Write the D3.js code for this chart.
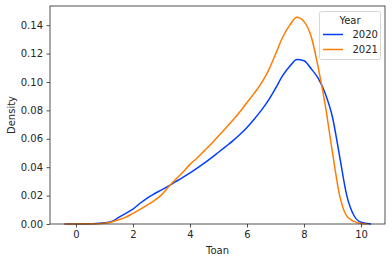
<!DOCTYPE html>
<html>
<head>
<meta charset="utf-8">
<script src="https://d3js.org/d3.v7.min.js"></script>
<style>
  body { margin: 0; background: #fff; }
  text { font-family: "DejaVu Sans", sans-serif; fill: #262626; }
</style>
</head>
<body>
<div id="chart"></div>
<script>
// KDE curves (x = Toan, y = Density)
var xs2020 = [-0.4, 0, 0.5, 1.0, 1.25, 1.5, 1.75, 2.0, 2.25, 2.5, 2.75, 3.0, 3.25, 3.5, 3.75, 4.0, 4.25, 4.5, 4.75, 5.0, 5.25, 5.5, 5.75, 6.0, 6.25, 6.5, 6.75, 7.0, 7.25, 7.5, 7.75, 8.0, 8.25, 8.5, 8.75, 9.0, 9.25, 9.5, 9.75, 10.0, 10.35];
var ys2020 = [0, 0, 0.0002, 0.0008, 0.0018, 0.0046, 0.0075, 0.0105, 0.0146, 0.0183, 0.0213, 0.0240, 0.0268, 0.0298, 0.0328, 0.0360, 0.0393, 0.0428, 0.0465, 0.0505, 0.0545, 0.0585, 0.0630, 0.0680, 0.0738, 0.0800, 0.0870, 0.0955, 0.1045, 0.1110, 0.1158, 0.1150, 0.1093, 0.1025, 0.0915, 0.0750, 0.0475, 0.0200, 0.0060, 0.0012, 0];

var xs2021 = [-0.4, 0, 0.5, 1.0, 1.25, 1.5, 1.75, 2.0, 2.25, 2.5, 2.75, 3.0, 3.25, 3.5, 3.75, 4.0, 4.25, 4.5, 4.75, 5.0, 5.25, 5.5, 5.75, 6.0, 6.25, 6.5, 6.75, 7.0, 7.25, 7.5, 7.75, 8.0, 8.25, 8.5, 8.75, 9.0, 9.25, 9.5, 9.75, 10.0, 10.2];
var ys2021 = [0, 0, 0.0001, 0.0006, 0.0014, 0.0030, 0.0048, 0.0075, 0.0103, 0.0133, 0.0165, 0.0205, 0.0263, 0.0315, 0.0365, 0.0420, 0.0465, 0.0515, 0.0565, 0.0620, 0.0675, 0.0730, 0.0790, 0.0855, 0.0920, 0.0990, 0.1080, 0.1195, 0.1315, 0.1400, 0.1455, 0.1425, 0.1320, 0.1100, 0.0830, 0.0500, 0.0200, 0.0055, 0.0018, 0.0003, 0];

var years = ["2020", "2021"];
var colors = ["#023eff", "#ff7c00"];
var xTicks = [0, 2, 4, 6, 8, 10];
var yTicks = [0, 0.02, 0.04, 0.06, 0.08, 0.10, 0.12, 0.14];

var W = 392, H = 262;
var mLeft = 50, mRight = 385, mTop = 6, mBottom = 224;

var svg = d3.select("#chart").append("svg")
    .attr("width", W).attr("height", H);

var x = d3.scaleLinear().domain([-0.91, 10.84]).range([mLeft, mRight]);
var y = d3.scaleLinear().domain([0, 0.1535]).range([mBottom, mTop]);

var series = [
    {name: years[0], color: colors[0], pts: d3.zip(xs2020, ys2020)},
    {name: years[1], color: colors[1], pts: d3.zip(xs2021, ys2021)}
];

var line = d3.line()
    .x(function(d) { return x(d[0]); })
    .y(function(d) { return y(d[1]); })
    .curve(d3.curveMonotoneX);

svg.append("g").selectAll("path")
    .data(series)
    .join("path")
    .attr("d", function(d) { return line(d.pts); })
    .attr("fill", "none")
    .attr("stroke", function(d) { return d.color; })
    .attr("stroke-width", 1.5);

// axes
var xAxis = svg.append("g")
    .attr("transform", "translate(0," + mBottom + ")")
    .call(d3.axisBottom(x).tickValues(xTicks).tickSize(3.5).tickPadding(3.5).tickFormat(d3.format("d")));
var yAxis = svg.append("g")
    .attr("transform", "translate(" + mLeft + ",0)")
    .call(d3.axisLeft(y).tickValues(yTicks).tickSize(3.5).tickPadding(3.5).tickFormat(d3.format(".2f")));
[xAxis, yAxis].forEach(function(a) {
    a.select(".domain").remove();
    a.selectAll("line").attr("stroke", "#262626").attr("stroke-width", 0.8);
    a.selectAll("text").attr("font-size", 10).attr("font-family", "DejaVu Sans").attr("fill", "#262626");
});

svg.append("rect")
    .attr("x", mLeft).attr("y", mTop)
    .attr("width", mRight - mLeft).attr("height", mBottom - mTop)
    .attr("fill", "none").attr("stroke", "#262626").attr("stroke-width", 0.8);

svg.append("text")
    .attr("x", (mLeft + mRight) / 2).attr("y", 254)
    .attr("text-anchor", "middle").attr("font-size", 10)
    .text("Toan");
svg.append("text")
    .attr("transform", "translate(15," + (mTop + mBottom) / 2 + ") rotate(-90)")
    .attr("text-anchor", "middle").attr("font-size", 10)
    .text("Density");

// legend
var lg = svg.append("g");
lg.append("rect")
    .attr("x", 319.5).attr("y", 11.5).attr("width", 61).attr("height", 48).attr("rx", 2)
    .attr("fill", "#fff").attr("fill-opacity", 0.8)
    .attr("stroke", "#ccc").attr("stroke-width", 0.8);
lg.append("text")
    .attr("x", 350).attr("y", 24)
    .attr("text-anchor", "middle").attr("font-size", 10)
    .text("Year");
series.forEach(function(s, i) {
    var yy = 34.5 + i * 15;
    lg.append("line")
        .attr("x1", 323).attr("x2", 343).attr("y1", yy).attr("y2", yy)
        .attr("stroke", s.color).attr("stroke-width", 1.5);
    lg.append("text")
        .attr("x", 352.5).attr("y", yy + 3.5).attr("font-size", 10)
        .text(s.name);
});
</script>
</body>
</html>
